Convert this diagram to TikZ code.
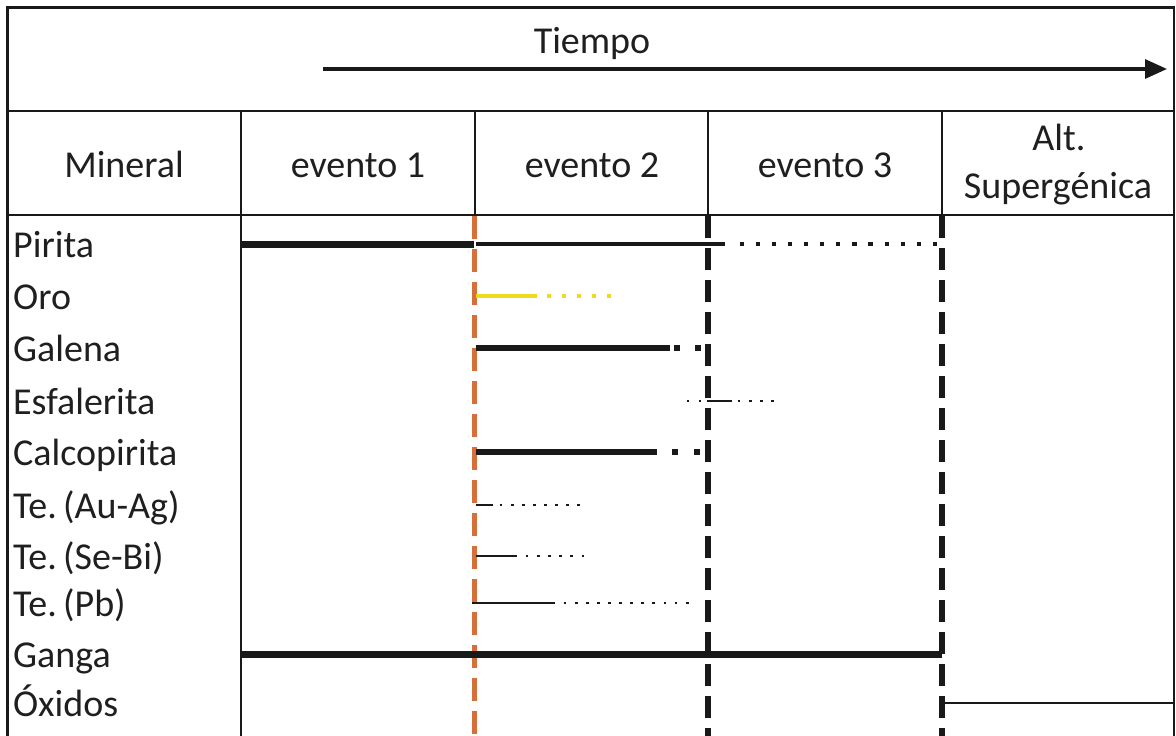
\documentclass[tikz,border=0pt]{standalone}
\usepackage{fontspec}
\setmainfont{Carlito}
\usetikzlibrary{arrows.meta}
\definecolor{evorange}{RGB}{213,112,58}
\definecolor{oroyellow}{RGB}{240,218,30}
\begin{document}
\begin{tikzpicture}[x=1pt,y=-1pt,
  frame/.style={line width=2.6pt, black!90},
  lbl/.style={font=\fontsize{38}{44}\selectfont, inner sep=0pt, text=black!88},
  sepdash/.style={line width=5.5pt, black!90, dash pattern=on 22pt off 10pt},
  orangedash/.style={line width=5pt, evorange, dash pattern=on 23pt off 10pt},
  thickbar/.style={line width=7pt, black!90},
  midbar/.style={line width=6pt, black!90},
  thinbar/.style={line width=2.4pt, black!90},
  dots/.style={line width=#1, black!90},
]
\useasboundingbox (0,0) rectangle (1176,736);

% outer frame and row separators
\draw[frame] (7.5,736) -- (7.5,7.5) -- (1174,7.5) -- (1174,736);
\draw[frame] (7.5,111) -- (1174,111);
\draw[frame] (7.5,215) -- (1174,215);

% header column rules
\foreach \cx in {241,475,708,942} \draw[frame] (\cx,111) -- (\cx,215);

% body column rules
\draw[frame] (241,215) -- (241,736);
\draw[orangedash] (474,216) -- (474,736);
\draw[sepdash] (708,216) -- (708,736);
\draw[sepdash] (942,216) -- (942,736);

% time arrow
\coordinate (tstart) at (323,69);
\coordinate (tend) at (1167,69);
\draw[line width=3.2pt, black!90, -{Triangle[length=22pt,width=19pt]}] (tstart) -- (tend);
\node[lbl, anchor=base] (tiempo) at (592,53) {Tiempo};

% header labels
\node[lbl, anchor=base] (hmin) at (124,177) {Mineral};
\node[lbl, anchor=base] (hev1) at (358,177) {evento 1};
\node[lbl, anchor=base] (hev2) at (592,177) {evento 2};
\node[lbl, anchor=base] (hev3) at (825,177) {evento 3};
\node[lbl, anchor=base] (halt) at (1059,150) {Alt.};
\node[lbl, anchor=base] (hsup) at (1058,198) {Supergénica};

% mineral names
\node[lbl, anchor=base west] (pirita) at (13,257) {Pirita};
\node[lbl, anchor=base west] (oro) at (13,309) {Oro};
\node[lbl, anchor=base west] (galena) at (13,361) {Galena};
\node[lbl, anchor=base west] (esfal) at (13,414) {Esfalerita};
\node[lbl, anchor=base west] (calco) at (13,465) {Calcopirita};
\node[lbl, anchor=base west] (teauag) at (13,518) {Te.\,(Au-Ag)};
\node[lbl, anchor=base west] (tesebi) at (13,569) {Te.\,(Se-Bi)};
\node[lbl, anchor=base west] (tepb) at (13,616) {Te.\,(Pb)};
\node[lbl, anchor=base west] (ganga) at (13,667) {Ganga};
\node[lbl, anchor=base west] (oxidos) at (13,716) {Óxidos};

% Pirita
\draw[thickbar] (241,244) -- (474,244);
\draw[dots=3.4pt] (476,244) -- (725,244);
\draw[dots=4.2pt, dash pattern=on 4.2pt off 11.9pt] (739.6,244) -- (940,244);

% Oro
\draw[line width=3.8pt, oroyellow] (476,296) -- (537,296);
\draw[line width=3.2pt, oroyellow, dash pattern=on 3.2pt off 11.8pt] (547.4,296) -- (611,296);

% Galena
\draw[midbar] (476,348) -- (670,348);
\draw[dots=5.5pt, dash pattern=on 5.5pt off 15.5pt] (674.25,348) -- (701,348);

% Esfalerita
\draw[dots=2.8pt, dash pattern=on 2.8pt off 9.2pt] (686.6,401) -- (702,401);
\draw[dots=2.6pt] (707,401) -- (732,401);
\draw[dots=2.8pt, dash pattern=on 2.8pt off 8.4pt] (737.6,401) -- (774,401);

% Calcopirita
\draw[midbar] (476,452) -- (657,452);
\draw[dots=5.5pt, dash pattern=on 5.5pt off 16.5pt] (672.25,452) -- (700,452);

% Te. (Au-Ag)
\draw[dots=2.8pt] (476,505) -- (493,505);
\draw[dots=2.8pt, dash pattern=on 2.8pt off 8.3pt] (499.6,505) -- (581,505);

% Te. (Se-Bi)
\draw[thinbar] (476,556) -- (517,556);
\draw[dots=2.8pt, dash pattern=on 2.8pt off 8.4pt] (525.6,556) -- (585,556);

% Te. (Pb)
\draw[thinbar] (472,603) -- (555,603);
\draw[dots=2.8pt, dash pattern=on 2.8pt off 8.3pt] (563.6,603) -- (689,603);

% Ganga
\draw[thickbar] (241,654) -- (942,654);

% Oxidos
\draw[thinbar] (942,703) -- (1174,703);
\end{tikzpicture}
\end{document}
